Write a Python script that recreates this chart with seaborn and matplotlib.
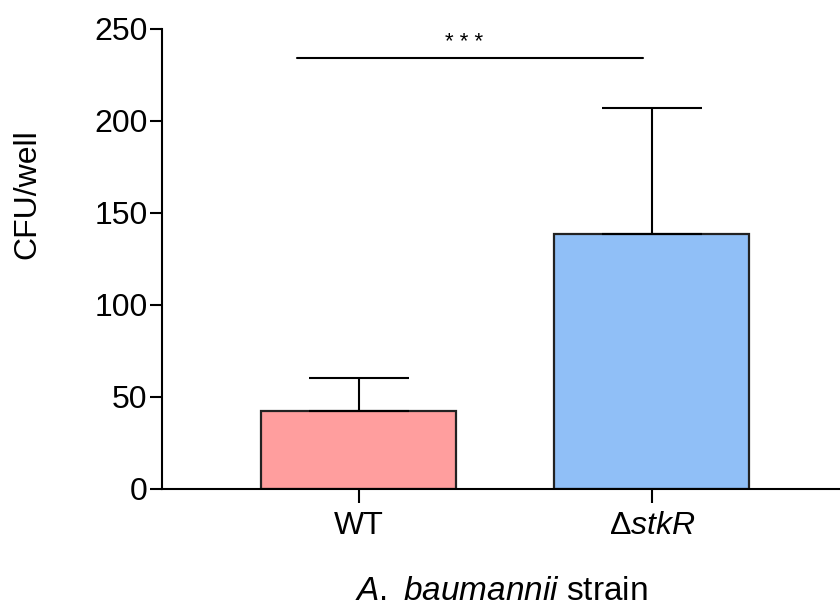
import matplotlib
matplotlib.use("Agg")
import matplotlib.pyplot as plt
import seaborn as sns
import pandas as pd

categories = ["WT", "ΔstkR"]
tick_labels = ["WT", r"Δ$\it{stkR}$"]
means = [42.5, 138.5]
sem = [18.0, 68.5]
colors = ["#FF9E9E", "#90BFF7"]
sig_label = "* * *"
sig_y = 234

sns.set_theme(style="ticks")
plt.rcParams["font.family"] = ["Liberation Sans", "DejaVu Sans"]
plt.rcParams["mathtext.fontset"] = "custom"
plt.rcParams["mathtext.rm"] = "Liberation Sans"
plt.rcParams["mathtext.it"] = "Liberation Sans:italic"
for k in ["text.color", "axes.labelcolor", "xtick.color", "ytick.color"]:
    plt.rcParams[k] = "black"

df = pd.DataFrame({"strain": categories, "cfu": means})

fig = plt.figure(figsize=(8.4, 6.07), dpi=100)
ax = fig.add_axes([162/840, 1 - 489/607, 1 - 162/840 + 0.01, (489 - 29)/607])

sns.barplot(data=df, x="strain", y="cfu", hue="strain", palette=colors,
            width=0.665, edgecolor="#222222", linewidth=1.6, errorbar=None,
            legend=False, ax=ax, saturation=1)

ax.errorbar(range(len(means)), means, yerr=[[0]*len(means), sem], fmt="none",
            ecolor="black", elinewidth=1.5, capsize=36, capthick=1.5, zorder=1)

ax.set_ylim(0, 250)
ax.set_xlim(-0.67, 1.67)
ax.set_yticks([0, 50, 100, 150, 200, 250])
ax.set_xticks([0, 1])
ax.set_xticklabels(tick_labels)
ax.tick_params(axis="y", length=8.5, width=1.5, labelsize=23, pad=2)
ax.tick_params(axis="x", length=10, width=1.5, labelsize=23, pad=6)
for s in ["top", "right"]:
    ax.spines[s].set_visible(False)
for s in ["left", "bottom"]:
    ax.spines[s].set_linewidth(1.5)
    ax.spines[s].set_color("black")

ax.set_ylabel("CFU/well", fontsize=23)
ax.yaxis.set_label_coords(-0.175, 0.64)
ax.set_xlabel(r"$\it{A.}$ $\it{baumannii}$ strain", fontsize=24)
ax.xaxis.set_label_coords(0.495, -0.19)

ax.plot([-0.21, 0.97], [sig_y, sig_y], color="black", lw=1.5, clip_on=False)
ax.text(0.36, sig_y + 3, sig_label, ha="center", va="bottom", fontsize=16)

fig.savefig("out.png", dpi=100)
